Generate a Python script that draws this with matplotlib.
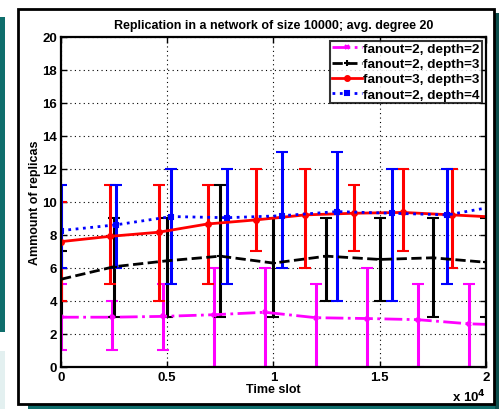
import matplotlib
matplotlib.use("Agg")
import matplotlib.pyplot as plt
from matplotlib.patches import Rectangle
from matplotlib.lines import Line2D
import numpy as np

plt.rcParams['font.family'] = ['Liberation Sans', 'DejaVu Sans']

# ---- data ----
labels = ["fanout=2, depth=2", "fanout=2, depth=3", "fanout=3, depth=3", "fanout=2, depth=4"]

x_f2d2 = [0, 2400, 4800, 7200, 9600, 12000, 14400, 16800, 19200, 21600]
y_f2d2 = [3.0, 3.0, 3.05, 3.15, 3.3, 2.97, 2.92, 2.85, 2.6, 2.5]
lo_f2d2 = [1, 1, 1, 0, 0, 0, 0, 0, 0, 0]
hi_f2d2 = [5, 4, 5, 6, 6, 5, 6, 5, 5, 5]

x_f2d3 = [0, 2500, 5000, 7500, 10000, 12500, 15000, 17500, 20000]
y_f2d3 = [5.3, 6.06, 6.42, 6.7, 6.28, 6.7, 6.5, 6.6, 6.33]
lo_f2d3 = [3, 3, 3, 3, 3, 4, 4, 3, 3]
hi_f2d3 = [7, 9, 9, 11, 9, 9, 9, 9, 9]

x_f3d3 = [0, 2300, 4600, 6900, 9200, 11500, 13800, 16100, 18400, 20700]
y_f3d3 = [7.58, 7.9, 8.15, 8.65, 8.9, 9.2, 9.3, 9.35, 9.2, 9.05]
lo_f3d3 = [4, 5, 4, 5, 7, 6, 7, 7, 6, 6]
hi_f3d3 = [10, 11, 11, 11, 12, 12, 11, 12, 12, 12]

x_f2d4 = [0, 2600, 5200, 7800, 10400, 13000, 15600, 18200, 20800]
y_f2d4 = [8.25, 8.6, 9.1, 9.03, 9.15, 9.4, 9.3, 9.2, 9.8]
lo_f2d4 = [6, 6, 5, 5, 6, 4, 4, 5, 5]
hi_f2d4 = [11, 11, 12, 12, 13, 13, 12, 12, 12]

series = [
    (x_f2d2, y_f2d2, lo_f2d2, hi_f2d2, '#ff00ff', '-.', 'x', 3.5),
    (x_f2d3, y_f2d3, lo_f2d3, hi_f2d3, 'black', '--', '+', 4),
    (x_f3d3, y_f3d3, lo_f3d3, hi_f3d3, '#ff0000', '-', 'o', 3.5),
    (x_f2d4, y_f2d4, lo_f2d4, hi_f2d4, '#0000ff', ':', 's', 3.5),
]

W, H = 499, 410
fig = plt.figure(figsize=(W / 100, H / 100), dpi=100)
fig.patch.set_facecolor('white')

def rect(x0, y0, x1, y1, color, **kw):
    fig.add_artist(Rectangle((x0 / W, 1 - y1 / H), (x1 - x0) / W, (y1 - y0) / H,
                             transform=fig.transFigure, facecolor=color,
                             edgecolor='none', zorder=-10, **kw))

teal = '#0f6e6c'
rect(0, 18, 4.5, 333, teal)
rect(0, 352, 4.5, 410, '#e3f0f0')
rect(28, 405, 499, 410, teal)
rect(494.5, 14, 499, 410, '#0d4f4d')
# white panel with black border
fig.add_artist(Rectangle((17.5 / W, 1 - 405 / H), (494 - 17.5) / W, (405 - 9.5) / H,
                         transform=fig.transFigure, facecolor='white',
                         edgecolor='black', linewidth=2, zorder=-5))

ax = fig.add_axes([61 / W, 1 - 367.7 / H, (485.7 - 61) / W, (367.7 - 37.7) / H])
ax.set_facecolor('white')

handles = []
for xs, ys, lo, hi, c, ls, mk, ms in series:
    xs = np.array(xs, float); ys = np.array(ys, float)
    err = [ys - np.array(lo, float), np.array(hi, float) - ys]
    ax.errorbar(xs, ys, yerr=err, color=c, linestyle=ls, marker=mk,
                markersize=ms, linewidth=2, elinewidth=2.2, capsize=4,
                capthick=2, markeredgewidth=1.5, markerfacecolor=c,
                clip_on=True)
    handles.append(Line2D([], [], color=c, linestyle=ls, marker=mk,
                          markersize=ms, linewidth=2, markeredgewidth=1.5,
                          markerfacecolor=c))

ax.set_xlim(0, 20000)
ax.set_ylim(0, 20)
ax.set_xticks([0, 5000, 10000, 15000, 20000])
ax.set_xticklabels(['0', '0.5', '1', '1.5', '2'])
ax.set_yticks(range(0, 21, 2))
ax.grid(True, color='black', linestyle=(0, (1, 3)), linewidth=0.8)
ax.tick_params(direction='in', length=4, width=1, labelsize=9.5, pad=3,
               top=True, right=True)
for lab in ax.get_xticklabels() + ax.get_yticklabels():
    lab.set_fontweight('bold')
for sp in ax.spines.values():
    sp.set_linewidth(1.6)
    sp.set_color('black')

ax.set_title('Replication in a network of size 10000; avg. degree 20',
             fontsize=9.0, fontweight='bold', pad=6)
ax.set_xlabel('Time slot', fontsize=9, fontweight='bold', labelpad=0)
ax.set_ylabel('Ammount of replicas', fontsize=9, fontweight='bold', labelpad=1)
ax.text(1.0, -0.065, r'x 10$^{\mathbf{4}}$', transform=ax.transAxes, ha='right',
        va='top', fontsize=9.5, fontweight='bold')

leg = ax.legend(handles, labels, loc='upper right',
                prop={'weight': 'bold', 'size': 9.7},
                frameon=True, fancybox=False, edgecolor='black',
                borderpad=0.15, labelspacing=0.2, handlelength=2.2,
                handletextpad=0.1, borderaxespad=0.3)
leg.get_frame().set_linewidth(1.5)

fig.savefig('out.png', dpi=100)
